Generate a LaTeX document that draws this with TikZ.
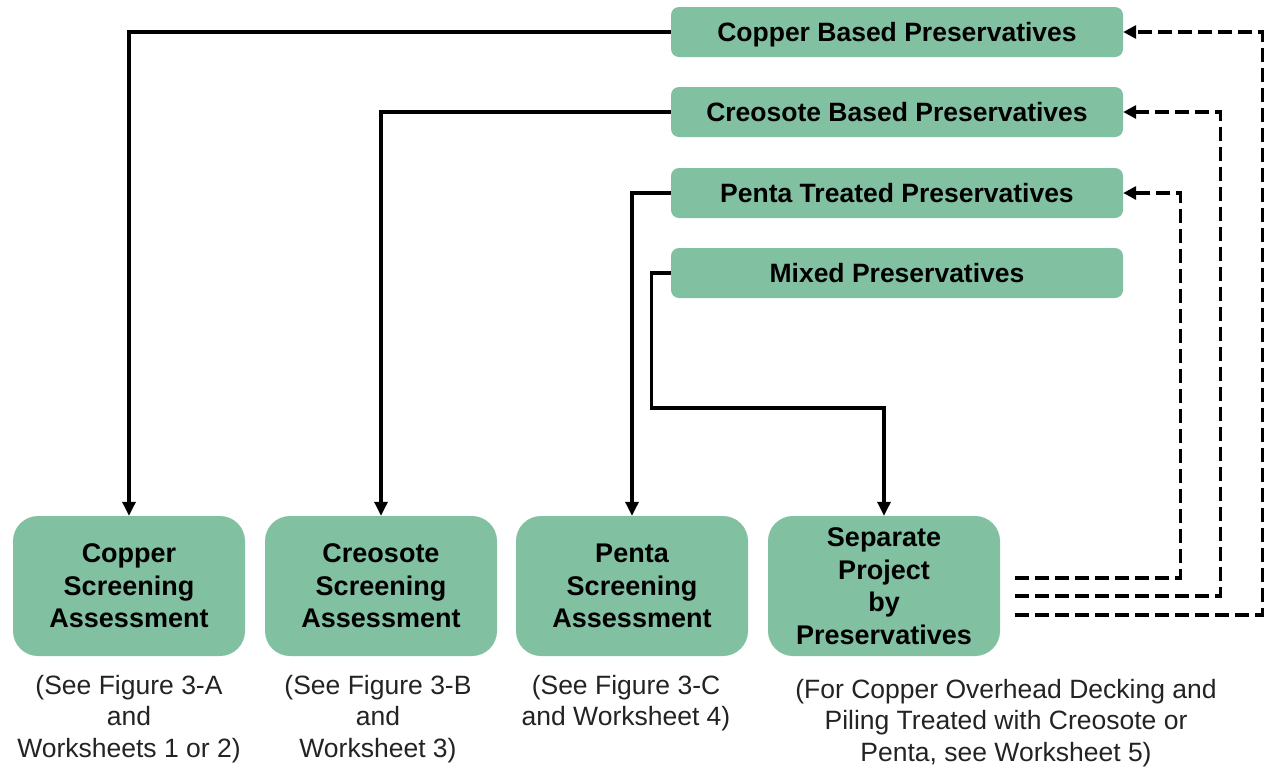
\documentclass[tikz,border=0pt]{standalone}
\usepackage{fontspec}
\setmainfont{Liberation Sans}
\usetikzlibrary{arrows.meta}
\definecolor{boxgreen}{RGB}{130,192,162}
\definecolor{captext}{RGB}{35,35,35}
\begin{document}
\begin{tikzpicture}[x=1pt,y=-1pt,
  topbox/.style={draw=none,fill=boxgreen,rounded corners=8pt,minimum width=452pt,minimum height=50pt,inner sep=0pt,text height=18pt,text depth=0pt,font=\fontsize{26.5}{30}\selectfont\bfseries},
  botbox/.style={draw=none,fill=boxgreen,rounded corners=25pt,minimum width=232pt,minimum height=140pt,inner sep=0pt,align=center,font=\fontsize{27}{32.5}\selectfont\bfseries},
  caption/.style={align=center,inner sep=0pt,text=captext,font=\fontsize{26.5}{31.5}\selectfont},
  conn/.style={line width=3.2pt,-{Triangle[length=14pt,width=13pt]}},
  dconn/.style={line width=3.2pt,dash pattern=on 14pt off 6pt,-{Triangle[length=13pt,width=13pt]}}
]
\useasboundingbox (0,0) rectangle (1265,772);
% top boxes
\node[topbox] (cb) at (897,32) {Copper Based Preservatives};
\node[topbox] (crb) at (897,112) {Creosote Based Preservatives};
\node[topbox] (pt) at (897,193) {Penta Treated Preservatives};
\node[topbox] (mx) at (897,273) {Mixed Preservatives};
% bottom boxes
\node[botbox] (cs) at (129,586) {Copper\\Screening\\Assessment};
\node[botbox] (crs) at (381,586) {Creosote\\Screening\\Assessment};
\node[botbox] (ps) at (632,586) {Penta\\Screening\\Assessment};
\node[botbox] (sp) at (884,586) {Separate\\Project\\by\\Preservatives};
% captions
\node[caption,anchor=north] (c1) at (129,675) {(See Figure 3-A\\and\\Worksheets 1 or 2)};
\node[caption,anchor=north] (c2) at (378,675) {(See Figure 3-B\\and\\Worksheet 3)};
\node[caption,anchor=north] (c3) at (626,675) {(See Figure 3-C\\and Worksheet 4)};
\node[caption,anchor=north] (c4) at (1006,679) {(For Copper Overhead Decking and\\Piling Treated with Creosote or\\Penta, see Worksheet 5)};
% solid connectors
\draw[conn] (cb.west) -| (cs.north);
\draw[conn] (crb.west) -| (crs.north);
\draw[conn] (pt.west) -| (ps.north);
\coordinate (mj) at (884,408);
\draw[conn] (mx.west) -- ++(-19,0) |- (mj) -- (sp.north);
% dashed connectors
\coordinate (d1) at (1015,578);
\coordinate (d2) at (1015,596);
\coordinate (d3) at (1015,615);
\draw[dconn] (d1) -| ([xshift=57pt]pt.east) -- (pt.east);
\draw[dconn] (d2) -| ([xshift=97pt]crb.east) -- (crb.east);
\draw[dconn] (d3) -| ([xshift=139pt]cb.east) -- (cb.east);
\end{tikzpicture}
\end{document}
